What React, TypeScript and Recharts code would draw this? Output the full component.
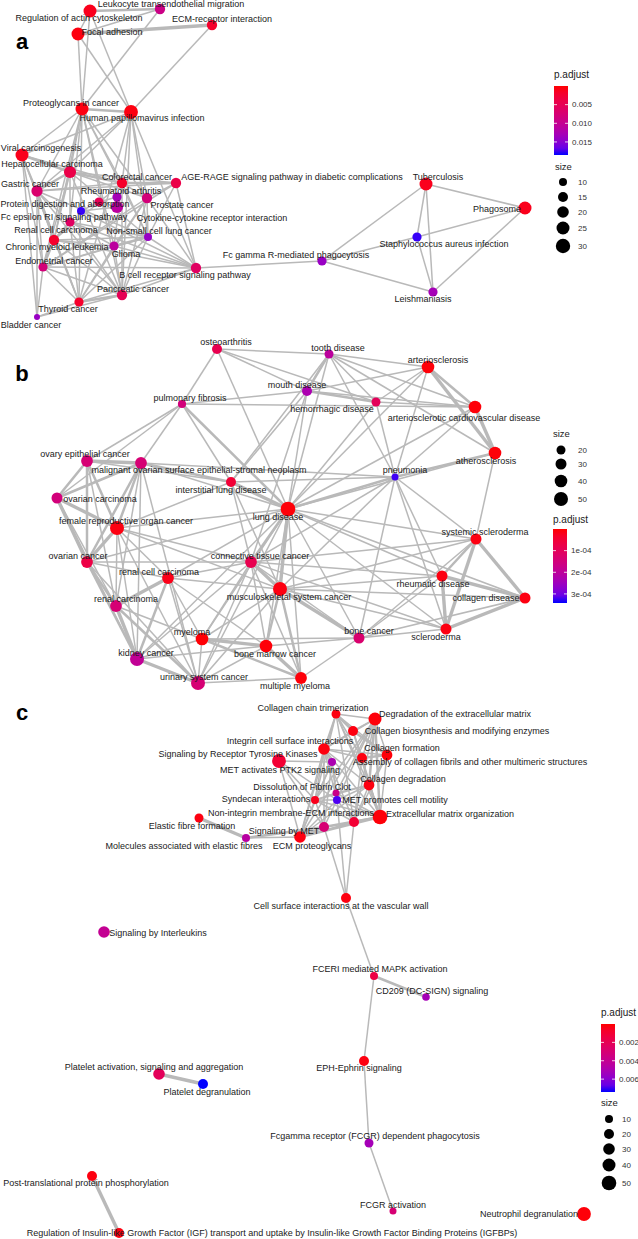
import React from "react";
import { ScatterChart, Scatter, XAxis, YAxis, ReferenceLine } from "recharts";

// node rows: key, label, x, y, label x, label y, gene count, p.adjust
type NodeRow = [string, string, number, number, number, number, number, number];
type EdgeRow = [string, string, number];

const nodesA: NodeRow[] = [
  ["ltm", "Leukocyte transendothelial migration", 160, 9, 171, 4, 16, 0.009],
  ["rac", "Regulation of actin cytoskeleton", 90, 11, 79, 18, 25, 0.001],
  ["fa", "Focal adhesion", 78, 34, 112, 32, 25, 0.0005],
  ["ecm", "ECM-receptor interaction", 212, 25, 222, 19, 16, 0.002],
  ["pic", "Proteoglycans in cancer", 82, 109, 71, 103, 25, 0.0005],
  ["hpv", "Human papillomavirus infection", 131, 112, 142, 118, 28, 0.0005],
  ["vc", "Viral carcinogenesis", 22, 155, 41, 148, 25, 0.001],
  ["hcc", "Hepatocellular carcinoma", 70, 172, 52, 164, 22, 0.004],
  ["crc", "Colorectal cancer", 122, 183, 137, 177, 16, 0.002],
  ["age", "AGE-RAGE signaling pathway in diabetic complications", 176, 183, 292, 177, 16, 0.004],
  ["gc", "Gastric cancer", 37, 191, 30, 184, 19, 0.007],
  ["ra", "Rheumatoid arthritis", 117, 197, 121, 191, 13, 0.013],
  ["pc", "Prostate cancer", 147, 198, 182, 205, 16, 0.008],
  ["pda", "Protein digestion and absorption", 99, 202, 65, 204, 13, 0.005],
  ["cci", "Cytokine-cytokine receptor interaction", 117, 207, 212, 218, 22, 0.011],
  ["fce", "Fc epsilon RI signaling pathway", 81, 211, 64, 217, 10, 0.018],
  ["rcc", "Renal cell carcinoma", 70, 222, 56, 230, 13, 0.006],
  ["cml", "Chronic myeloid leukemia", 54, 240, 57, 247, 16, 0.002],
  ["nsc", "Non-small cell lung cancer", 148, 237, 159, 231, 10, 0.014],
  ["gli", "Glioma", 114, 246, 126, 254, 13, 0.011],
  ["ec", "Endometrial cancer", 43, 267, 54, 261, 13, 0.008],
  ["bcr", "B cell receptor signaling pathway", 196, 268, 185, 275, 16, 0.006],
  ["fcg", "Fc gamma R-mediated phagocytosis", 322, 261, 296, 255, 13, 0.014],
  ["pan", "Pancreatic cancer", 122, 295, 133, 289, 16, 0.005],
  ["thy", "Thyroid cancer", 79, 302, 68, 309, 13, 0.002],
  ["bla", "Bladder cancer", 37, 317, 31, 325, 5, 0.014],
  ["tb", "Tuberculosis", 426, 184, 438, 177, 25, 0.001],
  ["pha", "Phagosome", 525, 208, 497, 209, 25, 0.001],
  ["sa", "Staphylococcus aureus infection", 417, 237, 444, 244, 13, 0.018],
  ["lei", "Leishmaniasis", 433, 292, 423, 299, 13, 0.013],
];

const edgesA: EdgeRow[] = [
  ["ltm", "rac", 2], ["ltm", "fa", 1], ["ltm", "pic", 1], ["rac", "fa", 1], ["rac", "pic", 1],
  ["rac", "hpv", 1], ["fa", "pic", 1], ["fa", "hpv", 1], ["fa", "ecm", 3], ["ecm", "hpv", 1],
  ["pic", "hpv", 2], ["pic", "vc", 1], ["pic", "hcc", 1], ["pic", "crc", 1], ["pic", "gc", 1],
  ["pic", "pc", 1], ["pic", "rcc", 1], ["pic", "cml", 1], ["pic", "ec", 1], ["pic", "pan", 1],
  ["pic", "thy", 1], ["pic", "nsc", 1], ["pic", "gli", 1], ["hpv", "vc", 1], ["hpv", "hcc", 1],
  ["hpv", "crc", 1], ["hpv", "pc", 1], ["hpv", "pan", 1], ["hpv", "nsc", 1], ["hpv", "bcr", 1],
  ["hpv", "gc", 1], ["hpv", "thy", 1], ["vc", "hcc", 2], ["vc", "gc", 1], ["vc", "crc", 1],
  ["vc", "cml", 1], ["vc", "ec", 1], ["vc", "bla", 1], ["vc", "thy", 1], ["hcc", "crc", 2],
  ["hcc", "gc", 2], ["hcc", "pc", 1], ["hcc", "age", 1], ["hcc", "rcc", 1], ["hcc", "cml", 1],
  ["hcc", "ec", 1], ["hcc", "pan", 1], ["hcc", "nsc", 1], ["crc", "age", 2], ["crc", "pc", 1],
  ["crc", "gc", 1], ["crc", "pan", 1], ["crc", "nsc", 1], ["crc", "gli", 1], ["crc", "cml", 1],
  ["age", "pc", 1], ["age", "nsc", 1], ["age", "bcr", 1], ["age", "gc", 1], ["age", "ec", 1],
  ["gc", "rcc", 1], ["gc", "cml", 2], ["gc", "ec", 1], ["gc", "pan", 1], ["gc", "thy", 1],
  ["gc", "bla", 1], ["gc", "nsc", 1], ["pc", "nsc", 1], ["pc", "gli", 1], ["pc", "bcr", 1],
  ["pc", "pan", 1], ["pc", "ec", 1], ["pc", "thy", 1], ["ra", "cci", 1], ["ra", "pda", 1],
  ["cci", "fce", 1], ["pda", "fce", 1], ["rcc", "cml", 2], ["rcc", "nsc", 1], ["rcc", "gli", 1],
  ["rcc", "bcr", 1], ["rcc", "thy", 1], ["rcc", "pan", 1], ["cml", "nsc", 1], ["cml", "gli", 1],
  ["cml", "ec", 2], ["cml", "thy", 1], ["cml", "pan", 1], ["cml", "bcr", 1], ["nsc", "gli", 2],
  ["nsc", "bcr", 1], ["nsc", "pan", 1], ["nsc", "thy", 1], ["nsc", "ec", 1], ["gli", "bcr", 1],
  ["gli", "pan", 1], ["gli", "thy", 1], ["gli", "ec", 1], ["ec", "bcr", 1], ["ec", "thy", 1],
  ["ec", "bla", 1], ["ec", "pan", 1], ["bcr", "pan", 1], ["bcr", "thy", 1], ["bcr", "fcg", 1],
  ["bcr", "fce", 1], ["pan", "thy", 2], ["pan", "bla", 1], ["thy", "bla", 1], ["fcg", "tb", 1],
  ["fcg", "sa", 1], ["fcg", "lei", 1], ["tb", "pha", 1], ["tb", "sa", 1], ["tb", "lei", 1],
  ["sa", "pha", 1], ["sa", "lei", 1], ["pha", "lei", 1],
];

const nodesB: NodeRow[] = [
  ["oa", "osteoarthritis", 217, 349, 226, 342, 25, 0.85e-4],
  ["td", "tooth disease", 329, 354, 338, 348, 20, 2.0e-4],
  ["art", "arteriosclerosis", 428, 367, 438, 360, 40, 0.05e-4],
  ["md", "mouth disease", 307, 391, 297, 385, 25, 2.3e-4],
  ["hd", "hemorrhagic disease", 376, 402, 332, 409, 20, 1.0e-4],
  ["acd", "arteriosclerotic cardiovascular disease", 475, 407, 464, 418, 40, 0.05e-4],
  ["pf", "pulmonary fibrosis", 182, 404, 190, 398, 16, 1.5e-4],
  ["ath", "atherosclerosis", 495, 453, 486, 461, 40, 0.05e-4],
  ["pn", "pneumonia", 395, 477, 405, 470, 10, 3.3e-4],
  ["oec", "ovary epithelial cancer", 87, 461, 85, 454, 35, 1.4e-4],
  ["mos", "malignant ovarian surface epithelial-stromal neoplasm", 141, 463, 199, 470, 35, 1.4e-4],
  ["ild", "interstitial lung disease", 231, 482, 221, 490, 25, 0.5e-4],
  ["oca", "ovarian carcinoma", 57, 498, 100, 499, 30, 1.5e-4],
  ["ld", "lung disease", 288, 509, 278, 517, 55, 0.05e-4],
  ["fro", "female reproductive organ cancer", 117, 528, 126, 521, 50, 0.1e-4],
  ["oc", "ovarian cancer", 87, 562, 78, 556, 35, 0.7e-4],
  ["ctc", "connective tissue cancer", 251, 562, 260, 556, 35, 0.85e-4],
  ["rcc", "renal cell carcinoma", 168, 578, 159, 572, 35, 0.15e-4],
  ["msc", "musculoskeletal system cancer", 280, 589, 289, 597, 50, 0.1e-4],
  ["rca", "renal carcinoma", 116, 606, 126, 599, 35, 1.4e-4],
  ["mye", "myeloma", 202, 639, 192, 632, 40, 0.03e-4],
  ["bmc", "bone marrow cancer", 266, 646, 275, 654, 40, 0.05e-4],
  ["kc", "kidney cancer", 137, 659, 146, 653, 50, 1.9e-4],
  ["usc", "urinary system cancer", 198, 683, 204, 677, 50, 1.4e-4],
  ["mm", "multiple myeloma", 301, 678, 295, 686, 35, 0.05e-4],
  ["ss", "systemic scleroderma", 476, 539, 485, 532, 30, 0.1e-4],
  ["rd", "rheumatic disease", 442, 576, 433, 584, 30, 0.1e-4],
  ["cd", "collagen disease", 525, 598, 486, 598, 30, 0.1e-4],
  ["bc", "bone cancer", 359, 638, 369, 631, 30, 1.3e-4],
  ["scl", "scleroderma", 446, 629, 436, 637, 30, 0.1e-4],
];

const edgesB: EdgeRow[] = [
  ["oa", "td", 1], ["oa", "ld", 1], ["oa", "md", 1], ["oa", "hd", 1], ["oa", "pf", 1],
  ["td", "art", 1], ["td", "md", 2], ["td", "hd", 1], ["td", "acd", 1], ["td", "ath", 1],
  ["td", "ld", 1], ["td", "pn", 1], ["td", "ild", 1], ["md", "hd", 2], ["md", "art", 1],
  ["md", "acd", 1], ["md", "pf", 1], ["md", "ld", 1], ["md", "ild", 1], ["md", "ctc", 1],
  ["hd", "art", 1], ["hd", "acd", 1], ["hd", "ld", 1], ["hd", "pn", 1], ["art", "acd", 2],
  ["art", "ath", 3], ["art", "pn", 1], ["art", "ld", 1], ["acd", "ath", 3], ["acd", "pn", 1],
  ["acd", "ld", 1], ["pf", "acd", 1], ["ath", "pn", 2], ["ath", "ld", 1], ["ath", "ss", 1],
  ["pf", "oec", 1], ["pf", "mos", 1], ["pf", "ild", 1], ["pf", "ld", 2], ["pf", "oca", 1],
  ["pn", "ld", 2], ["pn", "ild", 1], ["pn", "mos", 1], ["pn", "ctc", 1], ["pn", "msc", 1],
  ["pn", "ss", 1], ["pn", "rd", 1], ["pn", "scl", 1], ["pn", "bc", 1], ["oec", "mos", 3],
  ["oec", "oca", 2], ["oec", "fro", 2], ["oec", "oc", 2], ["oec", "rca", 1], ["oec", "ild", 1],
  ["mos", "oca", 2], ["mos", "fro", 2], ["mos", "oc", 2], ["mos", "ild", 2], ["mos", "ld", 1],
  ["mos", "rca", 1], ["mos", "kc", 1], ["mos", "usc", 1], ["ild", "ld", 3], ["ild", "ctc", 1],
  ["ild", "msc", 1], ["ild", "fro", 1], ["oca", "fro", 3], ["oca", "oc", 3], ["oca", "rca", 1],
  ["oca", "kc", 1], ["ld", "fro", 1], ["ld", "oc", 1], ["ld", "ctc", 2], ["ld", "msc", 3],
  ["ld", "rcc", 1], ["ld", "mye", 1], ["ld", "bmc", 1], ["ld", "mm", 1], ["ld", "usc", 1],
  ["ld", "kc", 1], ["ld", "ss", 1], ["ld", "rd", 1], ["ld", "cd", 1], ["ld", "scl", 1],
  ["ld", "bc", 1], ["fro", "oc", 3], ["fro", "rca", 1], ["fro", "rcc", 1], ["fro", "ctc", 1],
  ["fro", "msc", 1], ["fro", "kc", 1], ["fro", "usc", 1], ["oc", "rca", 2], ["oc", "kc", 2],
  ["oc", "usc", 1], ["oc", "ctc", 1], ["oc", "rcc", 1], ["ctc", "msc", 3], ["ctc", "rcc", 1],
  ["ctc", "mye", 1], ["ctc", "bmc", 1], ["ctc", "mm", 1], ["ctc", "usc", 1], ["ctc", "kc", 1],
  ["ctc", "bc", 1], ["ctc", "ss", 1], ["ctc", "rd", 1], ["ctc", "scl", 1], ["rcc", "rca", 3],
  ["rcc", "kc", 2], ["rcc", "usc", 1], ["rcc", "mye", 1], ["rcc", "msc", 1], ["rcc", "bmc", 1],
  ["msc", "bmc", 2], ["msc", "mm", 2], ["msc", "mye", 1], ["msc", "bc", 3], ["msc", "usc", 1],
  ["msc", "ss", 1], ["msc", "rd", 1], ["msc", "cd", 1], ["msc", "scl", 1], ["rca", "kc", 3],
  ["rca", "usc", 2], ["rca", "mye", 1], ["mye", "bmc", 3], ["mye", "mm", 2], ["mye", "usc", 1],
  ["mye", "kc", 1], ["mye", "bc", 1], ["bmc", "mm", 3], ["bmc", "usc", 1], ["bmc", "kc", 1],
  ["bmc", "bc", 1], ["kc", "usc", 3], ["usc", "mm", 1], ["mm", "bc", 1], ["ss", "rd", 2],
  ["ss", "cd", 3], ["ss", "scl", 3], ["ss", "bc", 1], ["rd", "cd", 3], ["rd", "scl", 3],
  ["rd", "bc", 1], ["cd", "scl", 3], ["cd", "bc", 1], ["bc", "scl", 1],
];

const nodesC: NodeRow[] = [
  ["cct", "Collagen chain trimerization", 336, 714, 313, 708, 15, 0.0002],
  ["dem", "Degradation of the extracellular matrix", 375, 719, 455, 714, 40, 0.0001],
  ["cbm", "Collagen biosynthesis and modifying enzymes", 353, 731, 457, 731, 20, 0.0002],
  ["ics", "Integrin cell surface interactions", 324, 749, 290, 741, 30, 0.0002],
  ["cf", "Collagen formation", 387, 755, 402, 748, 25, 0.0001],
  ["rtk", "Signaling by Receptor Tyrosine Kinases", 279, 761, 238, 754, 45, 0.001],
  ["acf", "Assembly of collagen fibrils and other multimeric structures", 362, 758, 470, 762, 20, 0.0002],
  ["ptk", "MET activates PTK2 signaling", 332, 762, 280, 770, 10, 0.005],
  ["cdg", "Collagen degradation", 369, 785, 403, 779, 25, 0.0002],
  ["dfc", "Dissolution of Fibrin Clot", 336, 793, 302, 787, 5, 0.0037],
  ["syn", "Syndecan interactions", 315, 800, 266, 799, 10, 0.0004],
  ["mpm", "MET promotes cell motility", 337, 800, 395, 800, 10, 0.007],
  ["nie", "Non-integrin membrane-ECM interactions", 354, 822, 291, 813, 20, 0.001],
  ["emo", "Extracellular matrix organization", 380, 817, 450, 814, 50, 0.0001],
  ["eff", "Elastic fibre formation", 199, 818, 192, 826, 15, 0.0002],
  ["smet", "Signaling by MET", 324, 827, 284, 831, 20, 0.003],
  ["mae", "Molecules associated with elastic fibres", 246, 838, 184, 846, 10, 0.0045],
  ["ecp", "ECM proteoglycans", 300, 837, 312, 846, 30, 0.0002],
  ["sbi", "Signaling by Interleukins", 104, 932, 158, 933, 30, 0.004],
  ["csi", "Cell surface interactions at the vascular wall", 346, 898, 341, 906, 20, 0.0002],
  ["fcer", "FCERI mediated MAPK activation", 374, 976, 380, 969, 10, 0.0015],
  ["dc", "CD209 (DC-SIGN) signaling", 426, 997, 432, 991, 8, 0.0052],
  ["eph", "EPH-Ephrin signaling", 364, 1061, 359, 1068, 20, 0.0002],
  ["pas", "Platelet activation, signaling and aggregation", 159, 1074, 154, 1067, 30, 0.0022],
  ["pd", "Platelet degranulation", 203, 1084, 207, 1092, 20, 0.0074],
  ["fcgr", "Fcgamma receptor (FCGR) dependent phagocytosis", 369, 1143, 375, 1136, 15, 0.0052],
  ["ptp", "Post-translational protein phosphorylation", 92, 1176, 86, 1183, 20, 0.0002],
  ["fca", "FCGR activation", 393, 1211, 393, 1205, 5, 0.003],
  ["neu", "Neutrophil degranulation", 584, 1214, 529, 1214, 45, 0.0001],
  ["igf", "Regulation of Insulin-like Growth Factor (IGF) transport and uptake by Insulin-like Growth Factor Binding Proteins (IGFBPs)", 119, 1233, 272, 1233, 20, 0.0002],
];

const edgesC: EdgeRow[] = [
  ["cct", "dem", 1], ["cct", "cbm", 2], ["cct", "ics", 1], ["cct", "cf", 1], ["cct", "acf", 1],
  ["cct", "cdg", 1], ["cct", "emo", 1], ["cct", "nie", 1], ["cct", "syn", 1], ["cct", "ecp", 1],
  ["dem", "cbm", 1], ["dem", "cf", 1], ["dem", "acf", 1], ["dem", "cdg", 2], ["dem", "emo", 2],
  ["dem", "ics", 1], ["dem", "nie", 1], ["dem", "syn", 1], ["dem", "ecp", 1], ["dem", "mpm", 1],
  ["dem", "dfc", 1], ["cbm", "cf", 2], ["cbm", "acf", 1], ["cbm", "cdg", 1], ["cbm", "emo", 1],
  ["cbm", "ics", 1], ["ics", "cf", 1], ["ics", "acf", 1], ["ics", "cdg", 1], ["ics", "emo", 1],
  ["ics", "nie", 1], ["ics", "syn", 1], ["ics", "ptk", 1], ["ics", "mpm", 1], ["ics", "ecp", 1],
  ["ics", "smet", 1], ["cf", "acf", 2], ["cf", "cdg", 1], ["cf", "emo", 1], ["cf", "nie", 1],
  ["rtk", "ptk", 1], ["rtk", "mpm", 1], ["rtk", "smet", 1], ["rtk", "ecp", 1], ["rtk", "syn", 1],
  ["acf", "cdg", 1], ["acf", "emo", 1], ["acf", "nie", 1], ["ptk", "mpm", 1], ["ptk", "smet", 1],
  ["ptk", "syn", 1], ["ptk", "dfc", 1], ["ptk", "ecp", 1], ["cdg", "emo", 2], ["cdg", "nie", 1],
  ["cdg", "syn", 1], ["cdg", "mpm", 1], ["cdg", "dfc", 1], ["cdg", "ecp", 1], ["dfc", "mpm", 1],
  ["dfc", "syn", 1], ["dfc", "emo", 1], ["syn", "mpm", 1], ["syn", "nie", 1], ["syn", "emo", 1],
  ["syn", "ecp", 1], ["syn", "smet", 1], ["mpm", "smet", 1], ["mpm", "emo", 1], ["mpm", "nie", 1],
  ["mpm", "ecp", 1], ["nie", "emo", 2], ["nie", "ecp", 1], ["nie", "smet", 1], ["emo", "smet", 2],
  ["emo", "ecp", 2], ["smet", "ecp", 2], ["mae", "ecp", 1], ["mae", "smet", 2], ["eff", "mae", 3],
  ["csi", "smet", 1], ["csi", "nie", 1], ["csi", "mpm", 1], ["csi", "fcer", 1], ["fcer", "dc", 2],
  ["fcer", "eph", 1], ["eph", "fcgr", 1], ["fcgr", "fca", 1], ["pas", "pd", 3], ["ptp", "igf", 3],
];

// legend breaks
const padjBreaksA = [0.005, 0.01, 0.015];
const padjBreaksB = [1e-4, 2e-4, 3e-4];
const padjBreaksC = [0.002, 0.004, 0.006];
const sizeBreaksA = [10, 15, 20, 25, 30];
const sizeBreaksB = [20, 30, 40, 50];
const sizeBreaksC = [10, 20, 30, 40, 50];

const FONT = "'Liberation Sans', Arial, Helvetica, sans-serif";
const EDGE = "#b9b9b9";

// ---- colour: ggplot style Lab gradient red -> blue
function toLin(c: number) {
  c /= 255;
  return c <= 0.04045 ? c / 12.92 : Math.pow((c + 0.055) / 1.055, 2.4);
}
function fromLin(c: number) {
  const v = c <= 0.0031308 ? 12.92 * c : 1.055 * Math.pow(c, 1 / 2.4) - 0.055;
  return Math.round(Math.max(0, Math.min(1, v)) * 255);
}
function rgbToLab(r: number, g: number, b: number) {
  const R = toLin(r), G = toLin(g), B = toLin(b);
  const X = (0.4124 * R + 0.3576 * G + 0.1805 * B) / 0.95047;
  const Y = 0.2126 * R + 0.7152 * G + 0.0722 * B;
  const Z = (0.0193 * R + 0.1192 * G + 0.9505 * B) / 1.08883;
  const f = (t: number) => (t > 0.008856 ? Math.cbrt(t) : 7.787 * t + 16 / 116);
  const fx = f(X), fy = f(Y), fz = f(Z);
  return [116 * fy - 16, 500 * (fx - fy), 200 * (fy - fz)];
}
function labToHex(L: number, a: number, b: number) {
  const fy = (L + 16) / 116;
  const fx = fy + a / 500;
  const fz = fy - b / 200;
  const inv = (t: number) => (t * t * t > 0.008856 ? t * t * t : (t - 16 / 116) / 7.787);
  const X = inv(fx) * 0.95047, Y = inv(fy), Z = inv(fz) * 1.08883;
  const R = 3.2406 * X - 1.5372 * Y - 0.4986 * Z;
  const G = -0.9689 * X + 1.8758 * Y + 0.0415 * Z;
  const B = 0.0557 * X - 0.204 * Y + 1.057 * Z;
  const h = (v: number) => fromLin(v).toString(16).padStart(2, "0");
  return "#" + h(R) + h(G) + h(B);
}
const LAB_RED = rgbToLab(255, 0, 0);
const LAB_BLUE = rgbToLab(0, 0, 255);
function gradColor(t: number) {
  const u = Math.max(0, Math.min(1, t));
  return labToHex(
    LAB_RED[0] + (LAB_BLUE[0] - LAB_RED[0]) * u,
    LAB_RED[1] + (LAB_BLUE[1] - LAB_RED[1]) * u,
    LAB_RED[2] + (LAB_BLUE[2] - LAB_RED[2]) * u
  );
}

function interp(v: number, xs: number[], ys: number[]) {
  if (v <= xs[0]) return ys[0] + ((v - xs[0]) * (ys[1] - ys[0])) / (xs[1] - xs[0]);
  for (let i = 1; i < xs.length; i++) {
    if (v <= xs[i]) return ys[i - 1] + ((v - xs[i - 1]) * (ys[i] - ys[i - 1])) / (xs[i] - xs[i - 1]);
  }
  const n = xs.length - 1;
  return ys[n] + ((v - xs[n]) * (ys[n] - ys[n - 1])) / (xs[n] - xs[n - 1]);
}

type Panel = {
  nodes: NodeRow[];
  edges: EdgeRow[];
  padjMax: number;
  padjBreaks: number[];
  sizeBreaks: number[];
  radii: number[];
  letter: string;
  letterPos: [number, number];
  bar: { x: number; top: number; bottom: number; titleY: number };
  size: { x: number; titleY: number; ys: number[] };
  labelX: number;
};

const panels: Panel[] = [
  {
    nodes: nodesA, edges: edgesA, padjMax: 0.0185, padjBreaks: padjBreaksA,
    sizeBreaks: sizeBreaksA, radii: [4, 5, 5.8, 6.5, 7.2],
    letter: "a", letterPos: [22, 41],
    bar: { x: 554, top: 86, bottom: 155, titleY: 74 },
    size: { x: 555, titleY: 167, ys: [182, 197, 212, 228, 246] }, labelX: 578,
  },
  {
    nodes: nodesB, edges: edgesB, padjMax: 3.42e-4, padjBreaks: padjBreaksB,
    sizeBreaks: sizeBreaksB, radii: [4.5, 5.5, 6.3, 7],
    letter: "b", letterPos: [22, 373],
    bar: { x: 553, top: 529, bottom: 603, titleY: 519 },
    size: { x: 553, titleY: 434, ys: [450, 464, 481, 499] }, labelX: 578,
  },
  {
    nodes: nodesC, edges: edgesC, padjMax: 0.0074, padjBreaks: padjBreaksC,
    sizeBreaks: sizeBreaksC, radii: [4, 5, 5.8, 6.5, 7.3],
    letter: "c", letterPos: [22, 712],
    bar: { x: 601, top: 1024, bottom: 1092, titleY: 1012 },
    size: { x: 601, titleY: 1103, ys: [1119, 1134, 1149, 1165, 1183] }, labelX: 622,
  },
];

function edgeWidth(w: number) {
  return w === 1 ? 1.5 : w === 2 ? 2.5 : 3.4;
}

export default function App() {
  const layers: React.ReactNode[] = [];

  panels.forEach((p, pi) => {
    const pos: Record<string, NodeRow> = {};
    p.nodes.forEach((n) => (pos[n[0]] = n));
    p.edges.forEach(([a, b, w], ei) => {
      const na = pos[a], nb = pos[b];
      if (!na || !nb) return;
      layers.push(
        <ReferenceLine
          key={`e${pi}-${ei}`}
          segment={[{ x: na[2], y: na[3] }, { x: nb[2], y: nb[3] }]}
          stroke={EDGE}
          strokeWidth={edgeWidth(w)}
          ifOverflow="visible"
        />
      );
    });
  });

  panels.forEach((p, pi) => {
    const nodeData = p.nodes.map((n) => ({ x: n[2], y: n[3], size: n[6], padj: n[7] }));
    layers.push(
      <Scatter
        key={`n${pi}`}
        data={nodeData}
        isAnimationActive={false}
        shape={(props: any) => {
          const d = props.payload;
          const r = Math.max(2.5, interp(d.size, p.sizeBreaks, p.radii));
          return <circle cx={props.cx} cy={props.cy} r={r} fill={gradColor(d.padj / p.padjMax)} />;
        }}
      />
    );
  });

  panels.forEach((p, pi) => {
    const labelData = p.nodes.map((n) => ({ x: n[4], y: n[5], label: n[1] }));
    layers.push(
      <Scatter
        key={`l${pi}`}
        data={labelData}
        isAnimationActive={false}
        shape={(props: any) => (
          <text
            x={props.cx}
            y={props.cy}
            dy="0.35em"
            textAnchor="middle"
            fontSize={9}
            fontFamily={FONT}
            fill="#1a1a1a"
          >
            {props.payload.label}
          </text>
        )}
      />
    );
  });

  // panel letters + legends
  panels.forEach((p, pi) => {
    layers.push(
      <Scatter
        key={`t${pi}`}
        data={[{ x: p.letterPos[0], y: p.letterPos[1] }]}
        isAnimationActive={false}
        shape={(props: any) => (
          <text x={props.cx} y={props.cy} dy="0.35em" textAnchor="middle" fontSize={22} fontWeight="bold" fontFamily={FONT} fill="#000">
            {p.letter}
          </text>
        )}
      />
    );

    const b = p.bar;
    const gid = `grad${pi}`;
    const stops = [0, 0.1, 0.2, 0.3, 0.4, 0.5, 0.6, 0.7, 0.8, 0.9, 1];
    layers.push(
      <Scatter
        key={`cb${pi}`}
        data={[{ x: b.x, y: b.top }]}
        isAnimationActive={false}
        shape={(props: any) => {
          const h = b.bottom - b.top;
          return (
            <g>
              <defs>
                <linearGradient id={gid} x1="0" y1="0" x2="0" y2="1">
                  {stops.map((s) => (
                    <stop key={s} offset={s} stopColor={gradColor(s)} />
                  ))}
                </linearGradient>
              </defs>
              <text x={props.cx} y={b.titleY} dy="0.35em" fontSize={10} fontFamily={FONT} fill="#1a1a1a">
                p.adjust
              </text>
              <rect x={props.cx} y={props.cy} width={14} height={h} fill={`url(#${gid})`} />
              {p.padjBreaks.map((v) => {
                const yy = props.cy + (v / p.padjMax) * h;
                return (
                  <g key={v}>
                    <line x1={props.cx} x2={props.cx + 3} y1={yy} y2={yy} stroke="#fff" strokeWidth={0.8} />
                    <line x1={props.cx + 11} x2={props.cx + 14} y1={yy} y2={yy} stroke="#fff" strokeWidth={0.8} />
                    <text x={props.cx + 18} y={yy} dy="0.35em" fontSize={8} fontFamily={FONT} fill="#333">
                      {pi === 1 ? `${Math.round(v * 1e4)}e-04` : v.toFixed(3)}
                    </text>
                  </g>
                );
              })}
            </g>
          );
        }}
      />
    );

    const s = p.size;
    layers.push(
      <Scatter
        key={`st${pi}`}
        data={[{ x: s.x, y: s.titleY }]}
        isAnimationActive={false}
        shape={(props: any) => (
          <text x={props.cx} y={props.cy} dy="0.35em" fontSize={9.5} fontFamily={FONT} fill="#1a1a1a">
            size
          </text>
        )}
      />
    );
    const sizeData = p.sizeBreaks.map((v, i) => ({ x: s.x + 8, y: s.ys[i], size: v }));
    layers.push(
      <Scatter
        key={`sz${pi}`}
        data={sizeData}
        isAnimationActive={false}
        shape={(props: any) => {
          const r = interp(props.payload.size, p.sizeBreaks, p.radii);
          return (
            <g>
              <circle cx={props.cx} cy={props.cy} r={r} fill="#000" />
              <text x={p.labelX} y={props.cy} dy="0.35em" fontSize={8} fontFamily={FONT} fill="#333">
                {props.payload.size}
              </text>
            </g>
          );
        }}
      />
    );
  });

  return (
    <div style={{ position: "absolute", left: 0, top: 0, background: "#fff" }}>
      <ScatterChart width={638} height={1239} margin={{ top: 0, right: 0, bottom: 0, left: 0 }}>
        <XAxis type="number" dataKey="x" domain={[0, 638]} hide allowDataOverflow />
        <YAxis type="number" dataKey="y" domain={[0, 1239]} reversed hide allowDataOverflow />
        {layers}
      </ScatterChart>
    </div>
  );
}
